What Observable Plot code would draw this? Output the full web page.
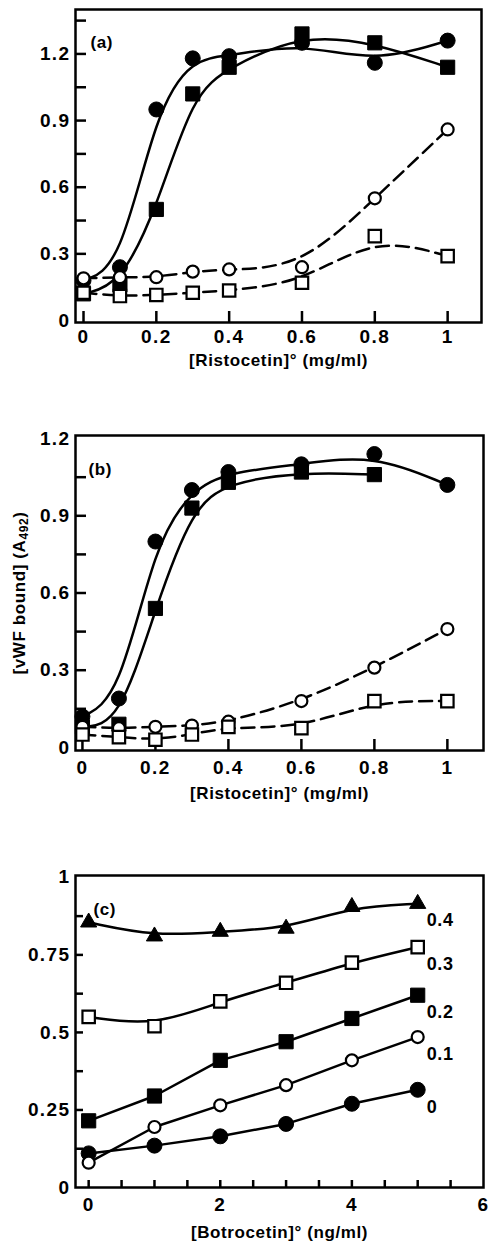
<!DOCTYPE html>
<html>
<head>
<meta charset="utf-8">
<script src="https://cdn.jsdelivr.net/npm/d3@7"></script>
<script src="https://cdn.jsdelivr.net/npm/@observablehq/plot@0.6"></script>
<style>
  body { margin: 0; background: #fff; }
  #wrap { position: relative; width: 489px; height: 1247px; }
  .panel { position: absolute; left: 0; }
  .panel svg { display: block; }
</style>
</head>
<body>
<div id="wrap"></div>
<script>
// Ristocetin concentrations (mg/ml) used in panels (a) and (b)
const ristocetin = [0, 0.1, 0.2, 0.3, 0.4, 0.6, 0.8, 1];

// Panel (a): vWF bound (A492)
const aFilledCircle = [0.18, 0.24, 0.95, 1.18, 1.19, 1.25, 1.16, 1.26];
const aFilledSquare = [0.12, 0.16, 0.50, 1.02, 1.14, 1.29, 1.25, 1.14];
const aOpenCircle   = [0.19, 0.195, 0.195, 0.22, 0.23, 0.24, 0.55, 0.86];
const aOpenSquare   = [0.125, 0.11, 0.115, 0.125, 0.135, 0.17, 0.38, 0.29];

// Panel (b): vWF bound (A492); the filled-square series stops at 0.8 mg/ml
const bFilledCircle = [0.12, 0.19, 0.80, 1.00, 1.07, 1.10, 1.14, 1.02];
const bFilledSquare = [0.08, 0.09, 0.54, 0.93, 1.03, 1.07, 1.06];
const bOpenCircle   = [0.08, 0.075, 0.08, 0.085, 0.10, 0.18, 0.31, 0.46];
const bOpenSquare   = [0.05, 0.04, 0.03, 0.05, 0.08, 0.075, 0.18, 0.18];

// Panel (c): botrocetin concentrations (ng/ml), one series per ristocetin level
const botrocetin = [0, 1, 2, 3, 4, 5];
const cRisto0  = [0.11, 0.135, 0.165, 0.205, 0.27, 0.315];
const cRisto01 = [0.08, 0.195, 0.265, 0.33, 0.41, 0.485];
const cRisto02 = [0.215, 0.295, 0.41, 0.47, 0.545, 0.62];
const cRisto03 = [0.55, 0.52, 0.60, 0.66, 0.725, 0.775];
const cRisto04 = [0.855, 0.81, 0.825, 0.835, 0.905, 0.915];
const cSeriesLabels = ["0", "0.1", "0.2", "0.3", "0.4"];

// Axis tick values
const aYLabels = [0, 0.3, 0.6, 0.9, 1.2];
const aYMarks = [0.15, 0.3, 0.45, 0.6, 0.75, 0.9, 1.05, 1.2, 1.35];
const bYLabels = [0, 0.3, 0.6, 0.9, 1.2];
const bYMarks = [0.15, 0.3, 0.45, 0.6, 0.75, 0.9, 1.05];
const ristoXLabels = [0, 0.2, 0.4, 0.6, 0.8, 1];
const cYLabels = [0, 0.25, 0.5, 0.75, 1];
const cYMarks = [0.125, 0.25, 0.375, 0.5, 0.625, 0.75, 0.875];
const cXLabels = [0, 2, 4, 6];
const cXMarks = [0, 0.5, 1, 1.5, 2, 2.5, 3, 3.5, 4, 4.5, 5, 5.5];

const FONT = "'Liberation Sans', Arial, Helvetica, sans-serif";
const W = 489;
const plain = d => `${d}`;

function rows(xs, ys) {
  return ys.map((y, i) => ({x: xs[i], y}));
}

function makePanel(cfg) {
  const frameW = W - cfg.ml - cfg.mr;
  const frameH = cfg.height - cfg.mt - cfg.mb;
  const marks = [];
  // inward tick marks along the bottom and left edges
  marks.push(Plot.ruleX(cfg.xTickMarks, {x: d => d, insetTop: frameH - cfg.xTickLen, stroke: "black", strokeWidth: 2.5}));
  marks.push(Plot.ruleY(cfg.yTickMarks, {y: d => d, insetRight: frameW - cfg.yTickLen, stroke: "black", strokeWidth: 2.5}));
  marks.push(Plot.axisX({ticks: cfg.xLabels, tickFormat: plain, tickSize: 0, tickPadding: cfg.xPad, label: null}));
  marks.push(Plot.axisY({ticks: cfg.yLabels, tickFormat: plain, tickSize: 0, tickPadding: 5, label: null}));
  for (const s of cfg.series) {
    marks.push(Plot.line(s.data, {
      x: "x", y: "y", curve: s.curve || "basis",
      stroke: "black", strokeWidth: 2.5,
      strokeDasharray: s.dashed ? "13,7" : null
    }));
  }
  // filled markers first, open markers on top
  const ordered = cfg.series.filter(s => s.filled).concat(cfg.series.filter(s => !s.filled));
  for (const s of ordered) {
    marks.push(Plot.dot(s.data, {
      x: "x", y: "y", symbol: s.symbol, r: s.r,
      fill: s.filled ? "black" : "white",
      stroke: "black", strokeWidth: s.filled ? 1 : 2.2
    }));
  }
  if (cfg.extra) marks.push(...cfg.extra);
  marks.push(Plot.frame({stroke: "black", strokeWidth: 2.5}));
  marks.push(Plot.text([cfg.tag], {frameAnchor: "top-left", textAnchor: "start", dx: cfg.tagDx, dy: cfg.tagDy, fontSize: 17}));
  marks.push(Plot.text([cfg.xTitle], {frameAnchor: "bottom", dy: cfg.titleDy}));

  const svg = Plot.plot({
    width: W,
    height: cfg.height,
    marginTop: cfg.mt,
    marginBottom: cfg.mb,
    marginLeft: cfg.ml,
    marginRight: cfg.mr,
    x: {domain: cfg.xDomain},
    y: {domain: cfg.yDomain},
    style: {fontFamily: FONT, fontWeight: "bold", fontSize: "17px", letterSpacing: "0.6px", color: "black", background: "white", overflow: "visible"},
    marks
  });
  // larger, wider-set tick labels
  d3.select(svg).selectAll("g[aria-label]").filter(function() {
    return /tick label/.test(this.getAttribute("aria-label"));
  }).selectAll("text").style("font-size", "19px").style("letter-spacing", "1.4px");
  const div = document.createElement("div");
  div.className = "panel";
  div.style.top = cfg.top + "px";
  div.appendChild(svg);
  document.getElementById("wrap").appendChild(div);
  return svg;
}

// (a)
makePanel({
  top: 0, height: 380, mt: 9, mb: 58, ml: 75, mr: 8,
  xDomain: [-0.022, 1.093], yDomain: [-0.009, 1.4],
  xLabels: ristoXLabels, xTickMarks: ristoXLabels, xTickLen: 11, xPad: 7,
  yLabels: aYLabels, yTickMarks: aYMarks, yTickLen: 11,
  tag: "(a)", tagDx: 15, tagDy: 26,
  xTitle: "[Ristocetin]° (mg/ml)", titleDy: 43,
  series: [
    {data: rows(ristocetin, aFilledCircle), filled: true, symbol: "circle", r: 7.5},
    {data: rows(ristocetin, aFilledSquare), filled: true, symbol: "square", r: 8},
    {data: rows(ristocetin, aOpenCircle), filled: false, symbol: "circle", r: 6, dashed: true},
    {data: rows(ristocetin, aOpenSquare), filled: false, symbol: "square", r: 7, dashed: true}
  ]
});

// (b)
const svgB = makePanel({
  top: 400, height: 420, mt: 35, mb: 70, ml: 75, mr: 6,
  xDomain: [-0.019, 1.099], yDomain: [-0.012, 1.212],
  xLabels: ristoXLabels, xTickMarks: ristoXLabels, xTickLen: 11, xPad: 10,
  yLabels: bYLabels, yTickMarks: bYMarks, yTickLen: 11,
  tag: "(b)", tagDx: 13, tagDy: 27,
  xTitle: "[Ristocetin]° (mg/ml)", titleDy: 48,
  series: [
    {data: rows(ristocetin, bFilledCircle), filled: true, symbol: "circle", r: 7.5},
    {data: rows(ristocetin, bFilledSquare), filled: true, symbol: "square", r: 8},
    {data: rows(ristocetin, bOpenCircle), filled: false, symbol: "circle", r: 6, dashed: true},
    {data: rows(ristocetin, bOpenSquare), filled: false, symbol: "square", r: 7, dashed: true}
  ]
});

// y-axis title of (b), with subscript, centred on the frame's vertical middle
const yt = d3.select(svgB).append("text")
  .attr("transform", "translate(21,193) rotate(-90)")
  .attr("text-anchor", "middle")
  .attr("dominant-baseline", "middle")
  .attr("fill", "black");
yt.append("tspan").text("[vWF bound] (A");
yt.append("tspan").attr("font-size", "12px").attr("dy", 4).text("492");
yt.append("tspan").attr("dy", -4).text(")");

// (c)
const cSeries = [cRisto0, cRisto01, cRisto02, cRisto03, cRisto04];
const cEnd = cSeries.map((ys, i) => ({x: botrocetin[botrocetin.length - 1], y: ys[ys.length - 1], label: cSeriesLabels[i]}));
makePanel({
  top: 840, height: 407, mt: 35, mb: 60, ml: 75, mr: 6,
  xDomain: [-0.2, 6], yDomain: [0, 1.006],
  xLabels: cXLabels, xTickMarks: cXMarks, xTickLen: 7, xPad: 10,
  yLabels: cYLabels, yTickMarks: cYMarks, yTickLen: 8,
  tag: "(c)", tagDx: 18, tagDy: 27,
  xTitle: "[Botrocetin]° (ng/ml)", titleDy: 50,
  series: [
    {data: rows(botrocetin, cRisto0), filled: true, symbol: "circle", r: 7.5, curve: "linear"},
    {data: rows(botrocetin, cRisto01), filled: false, symbol: "circle", r: 6, curve: "linear"},
    {data: rows(botrocetin, cRisto02), filled: true, symbol: "square", r: 8, curve: "linear"},
    {data: rows(botrocetin, cRisto03), filled: false, symbol: "square", r: 7, curve: "basis"},
    {data: rows(botrocetin, cRisto04), filled: true, symbol: "triangle", r: 6, curve: "basis"}
  ],
  extra: [
    Plot.text(cEnd, {x: "x", y: "y", text: "label", textAnchor: "start", dx: 9, dy: 17, fontSize: 18})
  ]
});
</script>
</body>
</html>
